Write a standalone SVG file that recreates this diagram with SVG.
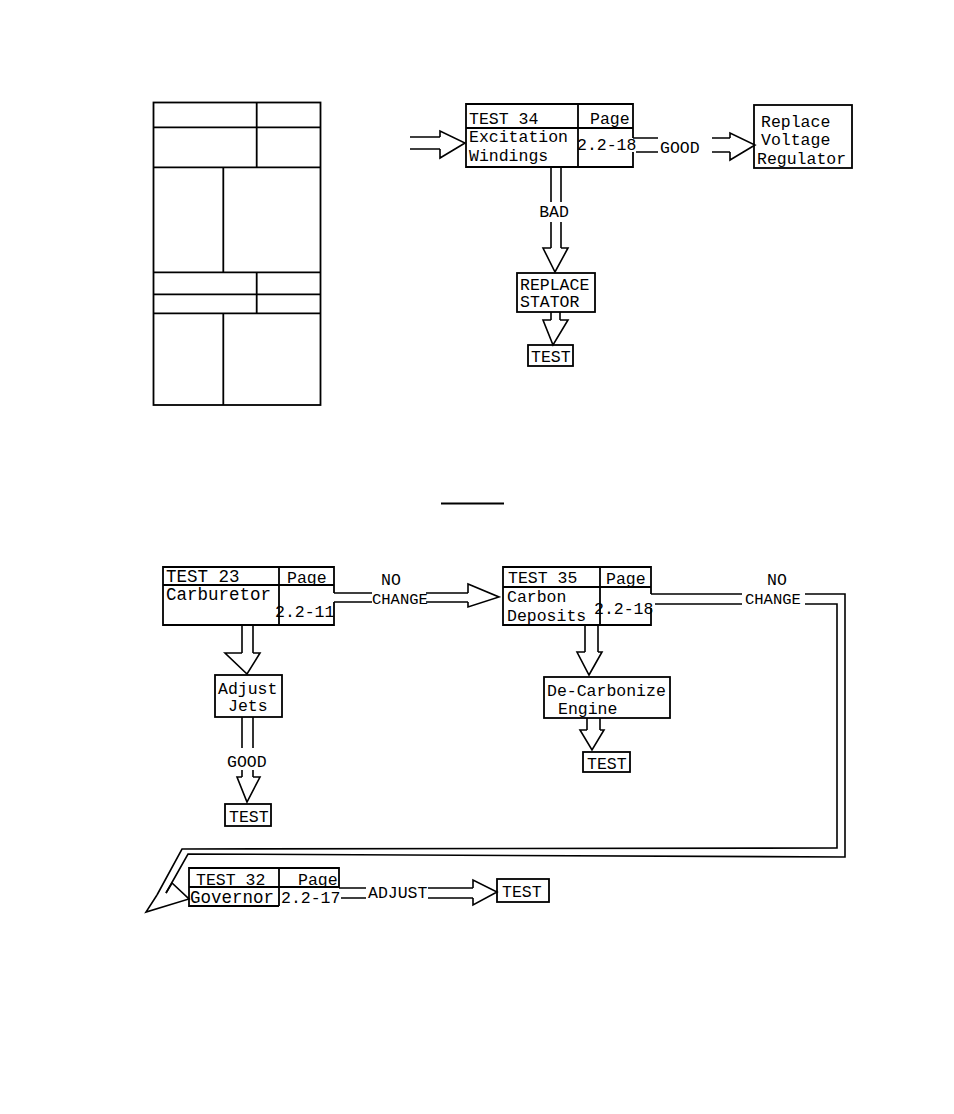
<svg xmlns="http://www.w3.org/2000/svg" width="954" height="1114" viewBox="0 0 954 1114">
<style>
.b{fill:none;stroke:#000;stroke-width:1.8}
.c{fill:none;stroke:#000;stroke-width:1.6;stroke-linejoin:miter}
.t{font-family:"Liberation Mono",monospace;font-size:16.5px;fill:#000}
.L{font-size:17.5px}
.s{font-size:15.5px}
.m{text-anchor:middle}
</style>
<rect width="954" height="1114" fill="#fff"/>
<g id="form-table" class="b" stroke-width="2">
<rect x="153.5" y="102.5" width="167" height="302.5"/>
<path d="M256.7 102.5V167.3M153.5 127.3H320.5M153.5 167.3H320.5M223.3 167.3V272.3M153.5 272.3H320.5M256.7 272.3V313.3M153.5 294.3H320.5M153.5 313.3H320.5M223.3 313.3V405"/>
</g>
<path id="title-rule" d="M441 503.5H504" stroke="#000" stroke-width="2"/>
<g id="connectors">
<path class="c" d="M410 137H440M410 149H440M440 137V131L465 143L440 158V149"/>
<path class="c" d="M633 138H658M636 152H658M712 138H730M712 152H730M730 138V133L755 145L730 160V152"/>
<path class="c" d="M551 167V202M561 167V202M551 222V248M561 222V248M551 248H543L555 272L568 248H561"/>
<path class="c" d="M551 312V320M560 312V320M551 320H543L553 345L568 320H560"/>
<path class="c" d="M334 593H372M334 602H372M426 593H468M426 602H468M468 593V584L499 597L468 607V602"/>
<path class="c" d="M242 624V653M253 624V653M242 653H225L247 674L260 653H253"/>
<path class="c" d="M242 717V748M253 717V748M242 770V777M253 770V777M242 777H237L247 802L260 777H253"/>
<path class="c" d="M585 625V652M598 625V652M585 652H577L589 675L602 652H598"/>
<path class="c" d="M587 718V730M600 718V730M587 730H580L592 750L604 730H600"/>
<path class="c" d="M651 594H742M655 604H742"/>
<path class="c" d="M805 594H845V857L188 854L166 893M805 604H837V848L182 849L157 895"/>
<path class="c" d="M157 895L146 912L189 899L172 883L166 893"/>
<path class="c" d="M339 888H366M341 898H366M428 888H473M428 898H473M473 888V880L497 892L473 905V898"/>
</g>
<g id="test34">
<path class="b" d="M633 138V104H466V167H633V152M466 128H633M578 104V167"/>
<text class="t" x="469" y="124">TEST 34</text>
<text class="t" x="590" y="124">Page</text>
<text class="t" x="469" y="142">Excitation</text>
<text class="t" x="469" y="161">Windings</text>
<text class="t" x="577" y="150">2.2-18</text>
</g>
<g id="replace-regulator">
<rect class="b" x="754" y="105" width="98" height="63"/>
<text class="t" x="761" y="127">Replace</text>
<text class="t" x="761" y="145">Voltage</text>
<text class="t" x="757" y="164">Regulator</text>
</g>
<text id="lbl-good1" class="t" x="660" y="153">GOOD</text>
<text id="lbl-bad" class="t m" x="554" y="217">BAD</text>
<g id="replace-stator">
<rect class="b" x="517" y="273" width="78" height="39"/>
<text class="t" x="520" y="290">REPLACE</text>
<text class="t" x="520" y="307">STATOR</text>
</g>
<g id="test-a">
<rect class="b" x="528" y="345" width="45" height="21"/>
<text class="t" x="531" y="362">TEST</text>
</g>
<g id="test23">
<path class="b" d="M334 593V567H163V625H334V602M163 585H334M279 567V625"/>
<text class="t L" x="166" y="582">TEST 23</text>
<text class="t" x="287" y="583">Page</text>
<text class="t L" x="166" y="600">Carburetor</text>
<text class="t" x="275" y="617">2.2-11</text>
</g>
<text class="t" x="381" y="585">NO</text>
<text class="t s" x="372" y="604">CHANGE</text>
<g id="test35">
<path class="b" d="M651 594V567H503V625H651V608M503 587H651M600 567V625"/>
<text class="t" x="508" y="583">TEST 35</text>
<text class="t" x="606" y="584">Page</text>
<text class="t" x="507" y="602">Carbon</text>
<text class="t" x="507" y="621">Deposits</text>
<text class="t" x="594" y="614">2.2-18</text>
</g>
<text class="t" x="767" y="585">NO</text>
<text class="t s" x="745" y="604">CHANGE</text>
<g id="adjust-jets">
<rect class="b" x="215" y="675" width="67" height="42"/>
<text class="t" x="218" y="694">Adjust</text>
<text class="t" x="228" y="711">Jets</text>
</g>
<text class="t" x="227" y="767">GOOD</text>
<g id="test-b">
<rect class="b" x="225" y="804" width="46" height="22"/>
<text class="t" x="229" y="822">TEST</text>
</g>
<g id="decarbonize">
<rect class="b" x="544" y="677" width="126" height="41"/>
<text class="t" x="547" y="696">De-Carbonize</text>
<text class="t" x="558" y="714">Engine</text>
</g>
<g id="test-c">
<rect class="b" x="583" y="752" width="47" height="20"/>
<text class="t" x="587" y="769">TEST</text>
</g>
<g id="test32">
<path class="b" d="M339 888V868H189V906H279M189 887H339M279 868V906"/>
<text class="t" x="196" y="885">TEST 32</text>
<text class="t" x="298" y="885">Page</text>
<text class="t L" x="190" y="903">Governor</text>
<text class="t" x="281" y="903">2.2-17</text>
</g>
<text class="t" x="368" y="898">ADJUST</text>
<g id="test-d">
<rect class="b" x="497" y="879" width="52" height="23"/>
<text class="t" x="502" y="897">TEST</text>
</g>
</svg>
